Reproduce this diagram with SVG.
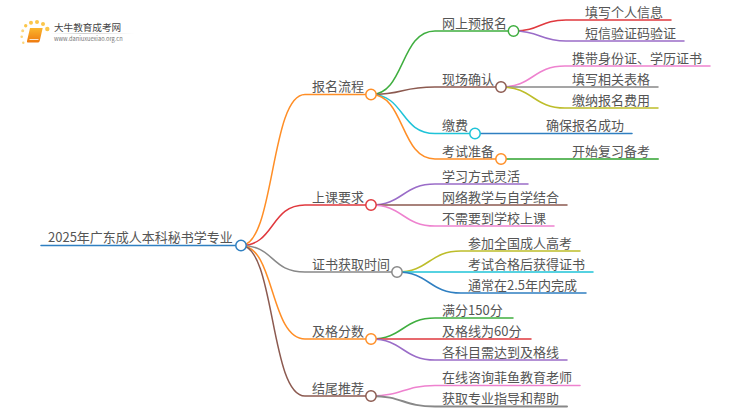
<svg xmlns="http://www.w3.org/2000/svg" width="750" height="410" viewBox="0 0 750 410">
<defs>
<linearGradient id="bk" x1="0" y1="0" x2="0" y2="1"><stop offset="0" stop-color="#fbb62d"/><stop offset="1" stop-color="#ee7a10"/></linearGradient>
<linearGradient id="rule" x1="0" y1="0" x2="1" y2="0"><stop offset="0" stop-color="#ddd" stop-opacity="0"/><stop offset=".4" stop-color="#ccc"/><stop offset="1" stop-color="#ddd" stop-opacity="0"/></linearGradient>
</defs>
<style>
text{font-family:"Noto Sans CJK SC","Noto Sans",sans-serif;font-size:13px;fill:#555}
.c{fill:none;stroke-width:1.5;stroke-linecap:round}
.n{fill:#fff;stroke-width:1.5}
.or{stroke:#ff8e26}.gr{stroke:#3fae3f}.rd{stroke:#e0393e}.pu{stroke:#9a6cc8}.br{stroke:#8c5a50}.pk{stroke:#ee82cf}.gy{stroke:#888}.ol{stroke:#bdbd2a}.cy{stroke:#1fc3d8}.bl{stroke:#2f7fc1}.lg{stroke:#62b962}
</style>
<g id="logo">
<circle cx="25.700" cy="25.700" r="1.700" fill="#fbc64a"/>
<circle cx="31" cy="22.700" r="2" fill="#fbc64a"/><circle cx="37" cy="22" r="2" fill="#fbc64a"/><circle cx="43" cy="24" r="2" fill="#fbc64a"/><circle cx="47.300" cy="29" r="2.200" fill="#fbc64a"/>
<circle cx="22.700" cy="30.700" r="1.500" fill="#fbd679"/><circle cx="21.700" cy="36.700" r="1.300" fill="#fbd679"/><circle cx="23.300" cy="42.700" r="1.200" fill="#fbd679"/>
<path d="M30 28h12.700l-3 13q-.5 1.500-2 1.500h-9.700q-1.500 0-1-1.500z" fill="url(#bk)"/>
<path d="M29.500 39.500h9" stroke="#fff" stroke-width=".8" fill="none"/>
<text x="54" y="30.500" style="font-size:9.600px;fill:#444">大牛教育成考网</text>
<rect x="50" y="33" width="85" height="1" fill="url(#rule)"/>
<text x="54" y="41" style="font-size:5.700px;fill:#777">www.daniuxuexiao.org.cn</text>
</g>
<g id="connectors">
<path class="c bl" d="M41 245.500H241"/>
<path class="c or" d="M241 245.500C275 245.500 270 94.500 305 94.500H371"/>
<path class="c rd" d="M241 245.500C275 245.500 270 205 305 205H371"/>
<path class="c gy" d="M241 245.500C275 245.500 270 272 305 272H397"/>
<path class="c or" d="M241 245.500C275 245.500 270 339 305 339H371"/>
<path class="c br" d="M241 245.500C275 245.500 270 396 305 396H371"/>

<path class="c gr" d="M371 94.500C405 94.500 400 31 435 31H514"/>
<path class="c br" d="M371 94.500C405 94.500 400 87 435 87H501"/>
<path class="c cy" d="M371 94.500C405 94.500 400 133.500 435 133.500H475"/>
<path class="c or" d="M371 94.500C405 94.500 400 159 435 159H501"/>

<path class="c rd" d="M514 31C540 31 540 20 566 20H671"/>
<path class="c pu" d="M514 31C540 31 540 41 566 41H684"/>
<path class="c pk" d="M501 87C533 87 533 66 565 66H710"/>
<path class="c gy" d="M501 87H658"/>
<path class="c ol" d="M501 87C533 87 533 108 565 108H658"/>
<path class="c bl" d="M475 133.500H632"/>
<path class="c lg" d="M501 159H658" style="stroke-width:2"/>

<path class="c pu" d="M371 205C403 205 403 184 435 184H528"/>
<path class="c br" d="M371 205H567"/>
<path class="c pk" d="M371 205C403 205 403 226 435 226H554"/>

<path class="c ol" d="M397 272C429 272 429 251 461 251H580"/>
<path class="c cy" d="M397 272H593"/>
<path class="c bl" d="M397 272C429 272 429 293 461 293H586"/>

<path class="c gr" d="M371 339C403 339 403 318 435 318H513"/>
<path class="c rd" d="M371 339H531"/>
<path class="c pu" d="M371 339C403 339 403 360 435 360H567"/>

<path class="c pk" d="M371 396C403 396 403 385.500 435 385.500H580"/>
<path class="c gy" d="M371 396C403 396 403 406.500 435 406.500H567" style="stroke-width:2"/>
</g>
<g id="root"><text x="48" y="242">2025年广东成人本科秘书学专业</text><circle class="n bl" cx="241" cy="245.500" r="5.200"/></g>
<g id="n1"><text x="312" y="91">报名流程</text><circle class="n or" cx="371" cy="94.500" r="5.200"/></g>
<g id="n2"><text x="312" y="202">上课要求</text><circle class="n rd" cx="371" cy="205" r="5.200"/></g>
<g id="n3"><text x="312" y="269">证书获取时间</text><circle class="n gy" cx="397" cy="272" r="5.200"/></g>
<g id="n4"><text x="312" y="336">及格分数</text><circle class="n or" cx="371" cy="339" r="5.200"/></g>
<g id="n5"><text x="312" y="393">结尾推荐</text><circle class="n br" cx="371" cy="396" r="5.200"/></g>
<g id="n1a"><text x="442" y="28">网上预报名</text><circle class="n gr" cx="513.500" cy="31" r="5.200"/></g>
<g id="n1b"><text x="442" y="84">现场确认</text><circle class="n br" cx="501" cy="87" r="5.200"/></g>
<g id="n1c"><text x="442" y="130">缴费</text><circle class="n cy" cx="475" cy="133.500" r="5.200"/></g>
<g id="n1d"><text x="442" y="156">考试准备</text><circle class="n or" cx="501" cy="159" r="5.200"/></g>
<g id="l1"><text x="585" y="17">填写个人信息</text></g>
<g id="l2"><text x="585" y="38">短信验证码验证</text></g>
<g id="l3"><text x="572" y="63">携带身份证、学历证书</text></g>
<g id="l4"><text x="572" y="84">填写相关表格</text></g>
<g id="l5"><text x="572" y="105">缴纳报名费用</text></g>
<g id="l6"><text x="546" y="130">确保报名成功</text></g>
<g id="l7"><text x="572" y="156">开始复习备考</text></g>
<g id="l8"><text x="442" y="181">学习方式灵活</text></g>
<g id="l9"><text x="442" y="202">网络教学与自学结合</text></g>
<g id="l10"><text x="442" y="223">不需要到学校上课</text></g>
<g id="l11"><text x="468" y="248">参加全国成人高考</text></g>
<g id="l12"><text x="468" y="269">考试合格后获得证书</text></g>
<g id="l13"><text x="468" y="290">通常在2.5年内完成</text></g>
<g id="l14"><text x="442" y="315">满分150分</text></g>
<g id="l15"><text x="442" y="336">及格线为60分</text></g>
<g id="l16"><text x="442" y="357">各科目需达到及格线</text></g>
<g id="l17"><text x="442" y="382">在线咨询菲鱼教育老师</text></g>
<g id="l18"><text x="442" y="403">获取专业指导和帮助</text></g>
</svg>
